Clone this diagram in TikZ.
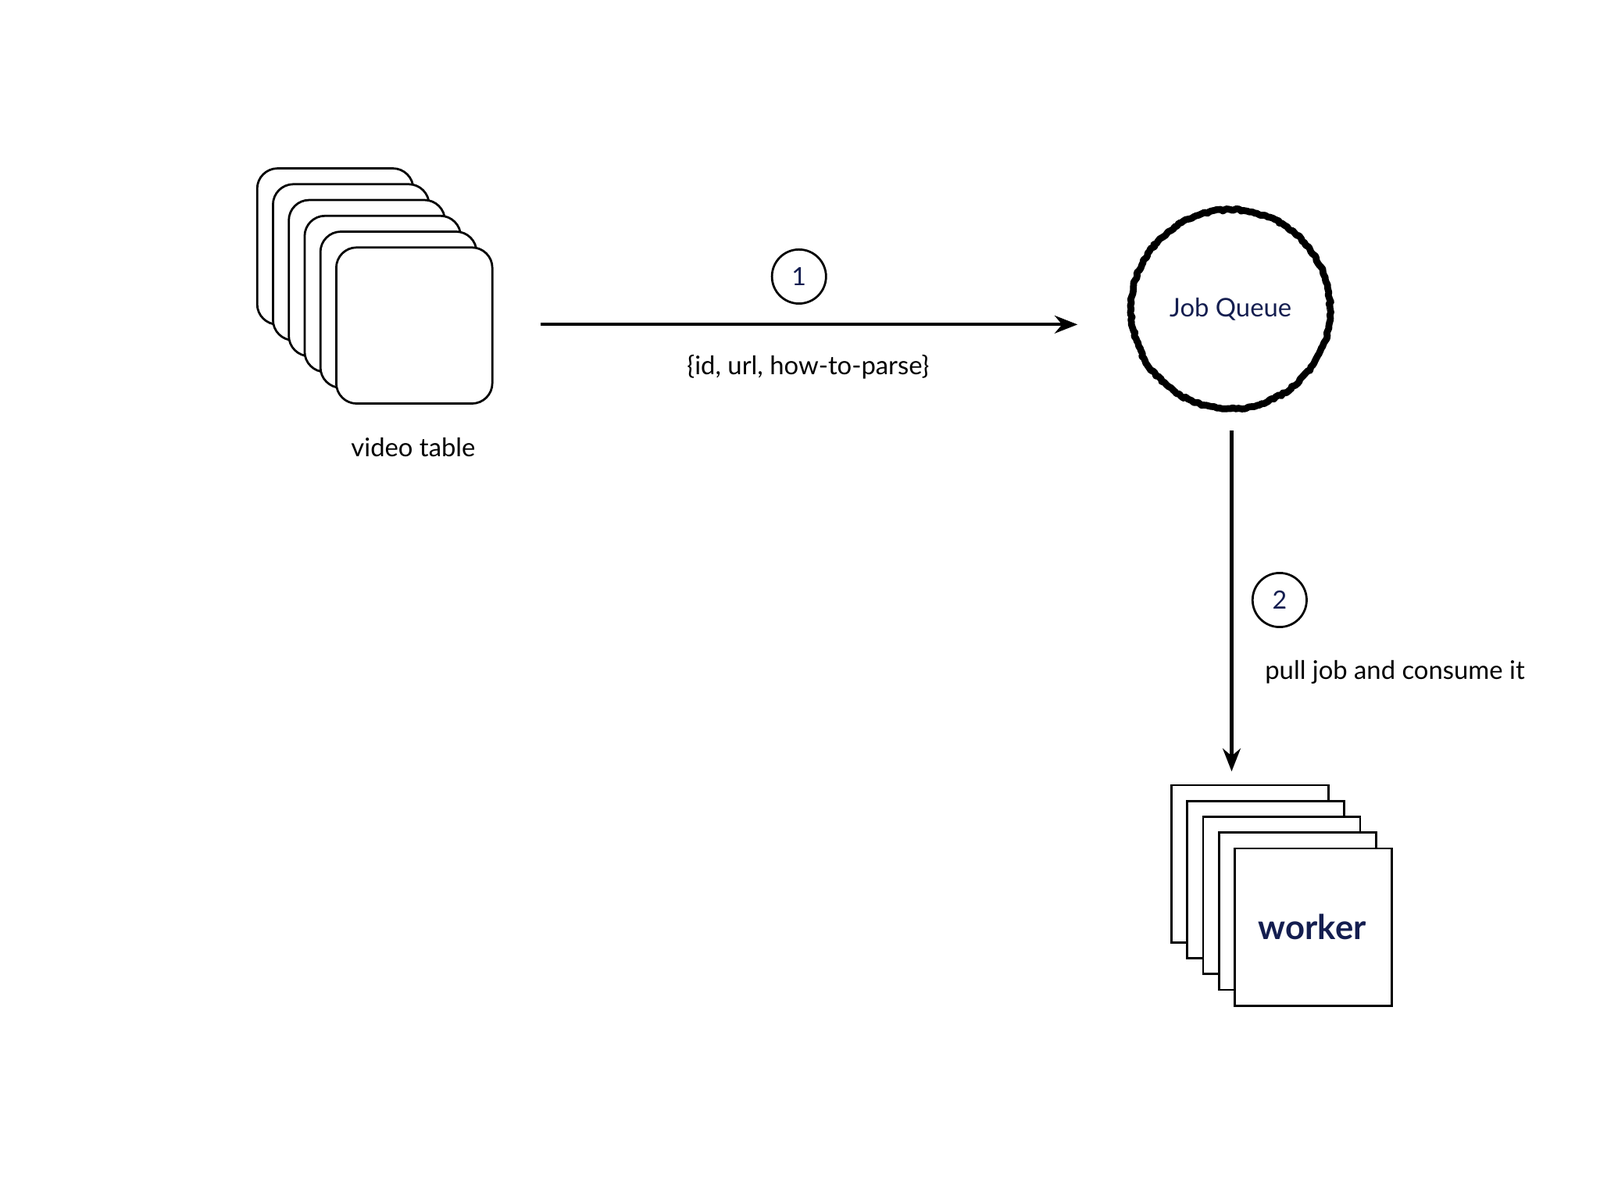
\documentclass[tikz,border=0pt]{standalone}
\usepackage{fontspec}
\setmainfont{Lato}
\usetikzlibrary{arrows.meta, decorations.pathmorphing, positioning}
\definecolor{navy}{RGB}{20,30,80}
\begin{document}
\begin{tikzpicture}[x=0.02cm, y=-0.02cm]
\tikzstyle{card}=[rectangle, rounded corners=4mm, draw=black, fill=white, line width=1.2pt, minimum size=30.6mm, inner sep=0pt]
\tikzstyle{sheet}=[rectangle, draw=black, fill=white, line width=1.2pt, minimum size=30.8mm, inner sep=0pt]
\tikzstyle{stepnum}=[circle, draw=black, line width=1.2pt, minimum size=10.6mm, inner sep=0pt, font=\fontsize{14}{16}\selectfont, text=navy]
\tikzstyle{lbl}=[font=\fontsize{14.3}{17}\selectfont]
\tikzstyle{connect}=[-{Stealth[length=4.5mm, width=3.5mm]}, line width=1.8pt]
\useasboundingbox (0,0) rectangle (1568,1176);
% video table stack
\foreach \i in {0,...,5}
  \node[card] (v\i) at (328.5+15.5*\i, 241.5+15.5*\i) {};
\node[lbl] (vtitle) at (405, 438) {video table};
% job queue
\node[circle, minimum size=39mm, draw=black, line width=3.8pt, line join=round,
  decorate, decoration={random steps, segment length=1.5pt, amplitude=0.6pt},
  text=navy, font=\fontsize{14.3}{17}\selectfont] (jq) at (1206, 303) {Job Queue};
% worker stack
\foreach \i in {0,...,4}
  \node[sheet] (w\i) at (1225+15.5*\i, 846.5+15.5*\i) {};
\node[text=navy, font=\fontsize{19}{23}\selectfont\bfseries] (wtitle) at (1286, 908) {worker};
% step 1
\coordinate (a1) at (530, 318);
\coordinate (b1) at (1056, 318);
\draw[connect] (a1) -- (b1);
\node[stepnum] (s1) at (783, 271) {1};
\node[lbl] (p1) at (792, 360) {\{id, url, how-to-parse\}};
% step 2
\coordinate (a2) at (1207, 422);
\coordinate (b2) at (1207, 756);
\draw[connect] (a2) -- (b2);
\node[stepnum] (s2) at (1254, 588) {2};
\node[lbl] (p2) at (1367, 659) {pull job and consume it};
\end{tikzpicture}
\end{document}
